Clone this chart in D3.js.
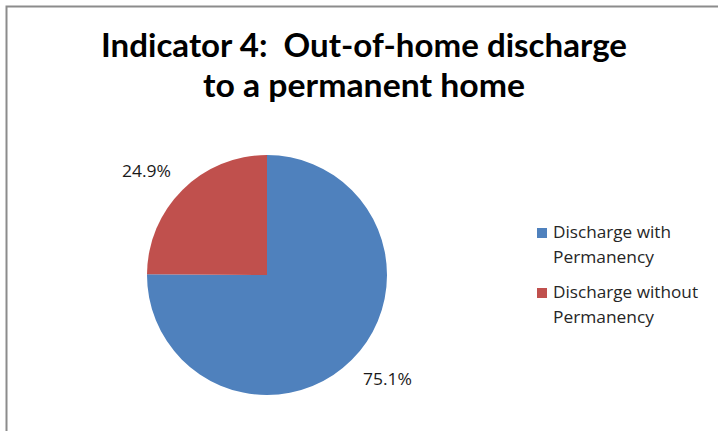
<!DOCTYPE html>
<html>
<head>
<meta charset="utf-8">
<script src="https://cdn.jsdelivr.net/npm/d3@7"></script>
<style>
  html, body { margin: 0; padding: 0; background: #fff; }
  svg { display: block; }
</style>
</head>
<body>
<svg id="chart" width="718" height="431"></svg>
<script>
// Share of out-of-home discharges, by permanency outcome (percent)
const categories = ["Discharge with Permanency", "Discharge without Permanency"];
const legendLines = [["Discharge with", "Permanency"], ["Discharge without", "Permanency"]];
const values = [75.1, 24.9];
const colors = ["#4F81BD", "#C0504D"];
const titleLines = ["Indicator 4:  Out-of-home discharge", "to a permanent home"];

const svg = d3.select("#chart");
const W = 718, H = 431;

// chart frame
svg.append("rect")
  .attr("x", 6.5).attr("y", 6.5)
  .attr("width", W + 20).attr("height", H + 20)
  .attr("fill", "#fff")
  .attr("stroke", "#8c8c8c").attr("stroke-width", 2);

// title
const titleFont = "Lato, 'Open Sans', sans-serif";
const title = svg.append("g");
const titleWidths = [526, 322];
const titleBaselines = [57, 97];
titleLines.forEach((t, i) => {
  title.append("text")
    .attr("x", 364).attr("y", titleBaselines[i])
    .attr("text-anchor", "middle")
    .attr("font-family", titleFont)
    .attr("font-weight", "bold")
    .attr("font-size", 33)
    .attr("fill", "#000")
    .attr("textLength", titleWidths[i])
    .attr("lengthAdjust", "spacingAndGlyphs")
    .attr("xml:space", "preserve")
    .style("white-space", "pre")
    .text(t);
});

// pie
const cx = 267, cy = 275, r = 120;
const color = d3.scaleOrdinal().domain(categories).range(colors);
const pie = d3.pie().sort(null).value(d => d.value);
const arcs = pie(categories.map((c, i) => ({ name: c, value: values[i] })));
const arc = d3.arc().innerRadius(0).outerRadius(r);

const g = svg.append("g").attr("transform", `translate(${cx},${cy})`);
g.selectAll("path")
  .data(arcs)
  .join("path")
  .attr("d", arc)
  .attr("fill", d => color(d.data.name));

// value labels placed outside each slice along its mid-angle
const labelFont = "'Open Sans', 'Noto Sans', sans-serif";
const labelRx = 171, labelRy = 147;
const midAngle = d => (d.startAngle + d.endAngle) / 2;
g.selectAll("text.val")
  .data(arcs)
  .join("text")
  .attr("class", "val")
  .attr("x", d => labelRx * Math.sin(midAngle(d)))
  .attr("y", d => -labelRy * Math.cos(midAngle(d)) + 6)
  .attr("text-anchor", "middle")
  .attr("font-family", labelFont)
  .attr("font-size", 17)
  .attr("fill", "#1a1a1a")
  .attr("textLength", 49)
  .attr("lengthAdjust", "spacingAndGlyphs")
  .text(d => d.data.value.toFixed(1) + "%");

// legend
const legend = svg.append("g").attr("transform", "translate(537,0)");
const legendTop = [228, 288];
const legendWidths = [[118, 101], [145, 101]];
categories.forEach((c, i) => {
  legend.append("rect")
    .attr("x", 0).attr("y", legendTop[i])
    .attr("width", 10).attr("height", 10)
    .attr("fill", color(c));
  legendLines[i].forEach((line, j) => {
    legend.append("text")
      .attr("x", 16).attr("y", legendTop[i] + 10 + j * 24.5)
      .attr("font-family", labelFont)
      .attr("font-size", 17)
      .attr("fill", "#262626")
      .attr("textLength", legendWidths[i][j])
      .attr("lengthAdjust", "spacingAndGlyphs")
      .text(line);
  });
});
</script>
</body>
</html>
